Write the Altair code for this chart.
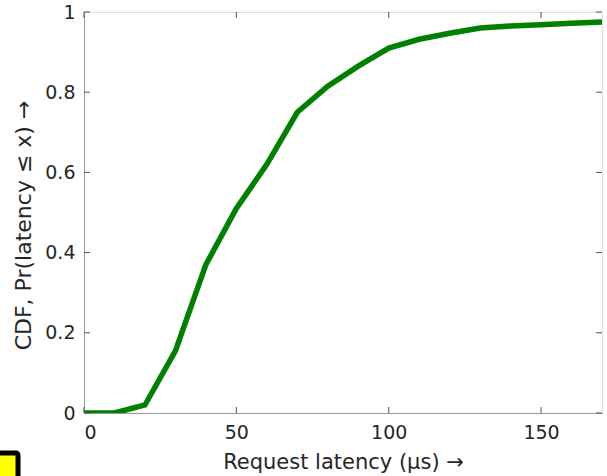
import altair as alt
import pandas as pd

latency = [0, 10, 20, 30, 40, 50, 60, 70, 80, 90, 100, 110, 120, 130, 140, 150, 160, 170]
cdf = [0, 0, 0.02, 0.155, 0.37, 0.51, 0.62, 0.75, 0.815, 0.865, 0.91, 0.932, 0.947, 0.96, 0.965, 0.968, 0.972, 0.975]
x_ticks = [0, 50, 100, 150]
y_ticks = [0, 0.2, 0.4, 0.6, 0.8, 1.0]

df = pd.DataFrame({"x": latency, "y": cdf})
xt = pd.DataFrame({"v": x_ticks})
yt = pd.DataFrame({"v": y_ticks})

FONT = "DejaVu Sans"
TXT = "#262626"
xs = alt.Scale(domain=[0, 170], nice=False)
ys = alt.Scale(domain=[0, 1], nice=False)

line = alt.Chart(df).mark_line(color="#008000", strokeWidth=5.5, clip=True).encode(
    x=alt.X("x:Q", scale=xs, axis=alt.Axis(
        values=x_ticks, title="Request latency (μs) →", tickSize=0,
        labelPadding=10, titlePadding=9, grid=False, domainColor="#999",
        labelFontSize=19, titleFontSize=21, labelColor=TXT, titleColor=TXT,
        labelFont=FONT, titleFont=FONT, titleFontWeight="normal")),
    y=alt.Y("y:Q", scale=ys, axis=alt.Axis(
        values=y_ticks, format="~g", title="CDF, Pr(latency ≤ x) →", tickSize=0,
        labelPadding=9, titlePadding=9, grid=False, domainColor="#999",
        titleY=213,
        labelFontSize=19, titleFontSize=22, labelColor=TXT, titleColor=TXT,
        labelFont=FONT, titleFont=FONT, titleFontWeight="normal")),
)

tick_col = "#555"
xb = alt.Chart(xt).mark_rule(color=tick_col, strokeWidth=1).encode(
    x=alt.X("v:Q", scale=xs), y=alt.value(401), y2=alt.value(395))
xtop = alt.Chart(xt).mark_rule(color=tick_col, strokeWidth=1).encode(
    x=alt.X("v:Q", scale=xs), y=alt.value(0), y2=alt.value(6))
yl = alt.Chart(yt).mark_rule(color=tick_col, strokeWidth=1).encode(
    y=alt.Y("v:Q", scale=ys), x=alt.value(0), x2=alt.value(6))
yr = alt.Chart(yt).mark_rule(color=tick_col, strokeWidth=1).encode(
    y=alt.Y("v:Q", scale=ys), x=alt.value(518), x2=alt.value(512))

# decorative yellow marker seen in the lower-left corner of the original figure
marker = alt.Chart(pd.DataFrame({"k": [0]})).mark_rect(
    color="#ffff00", stroke="black", strokeWidth=5, cornerRadius=2
).encode(x=alt.value(-92), x2=alt.value(-66), y=alt.value(441), y2=alt.value(470))

chart = alt.layer(xb, xtop, yl, yr, line, marker).properties(
    width=518, height=401,
    autosize=alt.AutoSizeParams(type="none"),
    padding={"left": 84, "top": 12, "right": 5, "bottom": 63},
).configure_view(stroke="#555", strokeWidth=1).configure(background="white")

chart.save("out.html", embed_options={"renderer": "svg", "actions": False})
